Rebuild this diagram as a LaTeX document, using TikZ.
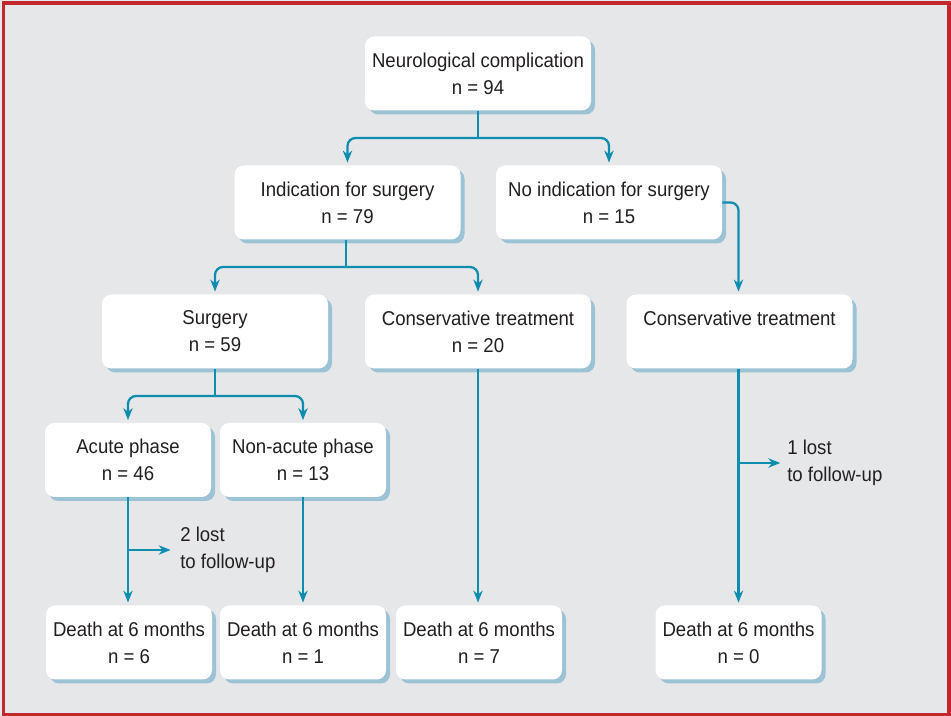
\documentclass[tikz,border=0pt]{standalone}
\usepackage{fontspec}
\setmainfont[FakeStretch=0.93]{Liberation Sans}
\usetikzlibrary{arrows.meta,shadows}

\definecolor{bggray}{HTML}{E6E7E9}
\definecolor{frame}{HTML}{C1272D}
\definecolor{arrowblue}{HTML}{0E8DAF}
\definecolor{shadowblue}{HTML}{9CC2D5}
\definecolor{textgray}{HTML}{231F20}

\begin{document}
\begin{tikzpicture}[x=0.75pt, y=-0.75pt, font=\fontsize{15}{20.3}\selectfont, text=textgray,
  box/.style={rectangle, rounded corners=7pt, fill=white, align=center, inner sep=0pt, minimum height=55.5pt,
    drop shadow={shadow xshift=3pt, shadow yshift=-3pt, fill=shadowblue, opacity=1}},
  widebox/.style={box, minimum width=169.5pt},
  smallbox/.style={box, minimum width=124.5pt},
  line/.style={draw=arrowblue, line width=1.7pt},
  arr/.style={line, rounded corners=6pt, -{Stealth[length=9pt, width=7pt]}, shorten >=2pt},
  lostlabel/.style={align=left, anchor=west, inner sep=0pt}]

  \useasboundingbox (0,0) rectangle (951,716);
  \fill[bggray] (0,0) rectangle (951,716);
  \draw[frame, line width=2.6pt] (3.5,3) rectangle (949,714.5);

  \node[widebox] (neuro) at (478,73.5) {Neurological complication\\n = 94};
  \node[widebox] (indic) at (347.5,202.5) {Indication for surgery\\n = 79};
  \node[widebox] (noindic) at (609,202.5) {No indication for surgery\\n = 15};
  \node[widebox] (surgery) at (215,331.5) {Surgery\\n = 59};
  \node[widebox] (constreat) at (478,331.5) {Conservative treatment\\n = 20};
  \node[widebox] (consright) at (739.5,331.5) {Conservative treatment\\\phantom{n = 0}};
  \node[smallbox] (acute) at (128,460) {Acute phase\\n = 46};
  \node[smallbox] (nonacute) at (303,460) {Non-acute phase\\n = 13};
  \node[smallbox] (death6) at (129,642.5) {Death at 6 months\\n = 6};
  \node[smallbox] (death1) at (303,642.5) {Death at 6 months\\n = 1};
  \node[smallbox] (death7) at (479,642.5) {Death at 6 months\\n = 7};
  \node[smallbox] (death0) at (738.5,642.5) {Death at 6 months\\n = 0};

  \coordinate (splitneuro) at (478,138);
  \coordinate (splitindic) at (346,267);
  \coordinate (splitsurg) at (215,396);
  \coordinate (lostacute) at (128,550);
  \coordinate (lostright) at (738.5,463);
  \node[lostlabel] (lost2) at (180,550) {2 lost\\to follow-up};
  \node[lostlabel] (lost1) at (787,463) {1 lost\\to follow-up};

  \draw[line] (neuro.south) -- (splitneuro);
  \draw[arr] (splitneuro) -| (indic.north);
  \draw[arr] (splitneuro) -| (noindic.north);
  \draw[line] (indic.south -| splitindic) -- (splitindic);
  \draw[arr] (splitindic) -| (surgery.north);
  \draw[arr] (splitindic) -| (constreat.north);
  \draw[arr] (noindic.east) -| (consright.north -| death0.north);
  \draw[line] (surgery.south) -- (splitsurg);
  \draw[arr] (splitsurg) -| (acute.north);
  \draw[arr] (splitsurg) -| (nonacute.north);
  \draw[arr] (acute.south) -- (acute.south |- death6.north);
  \draw[arr] (lostacute) -- ([xshift=-5pt]lost2.west);
  \draw[arr] (nonacute.south) -- (death1.north);
  \draw[arr] (constreat.south) -- (constreat.south |- death7.north);
  \draw[arr] (death0.north |- consright.south) -- (death0.north);
  \draw[arr] (lostright) -- ([xshift=-3pt]lost1.west);
\end{tikzpicture}
\end{document}
